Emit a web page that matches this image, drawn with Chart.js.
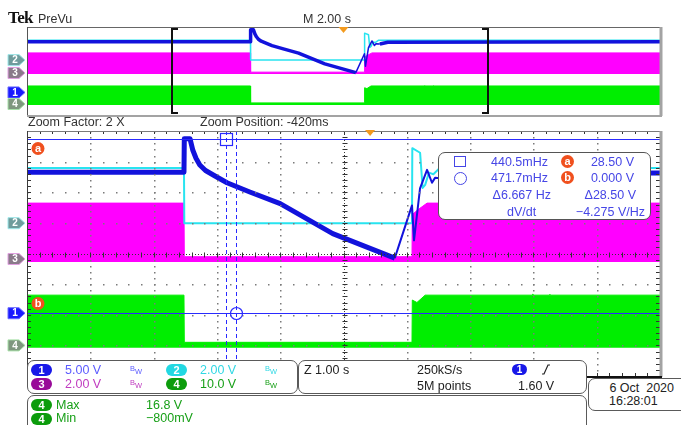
<!DOCTYPE html>
<html>
<head>
<meta charset="utf-8">
<title>Tek PreVu</title>
<script src="https://cdn.jsdelivr.net/npm/chart.js"></script>
<style>
  body { margin: 0; background: #fff; }
  #scope { position: relative; width: 681px; height: 425px; overflow: hidden; font-family: 'Liberation Sans', Arial, sans-serif; color: #222; }
  #scope canvas { position: absolute; left: 0; top: 0; }
  .t { position: absolute; font-size: 12.5px; line-height: 14px; white-space: nowrap; }
  .r { text-align: right; }
  .box { position: absolute; background: #fff; border: 1.5px solid #5a5a5a; border-radius: 7px; box-sizing: border-box; }
  .pill { position: absolute; width: 21px; height: 12px; border-radius: 6px; color: #fff; font-size: 11px; font-weight: bold; line-height: 12px; text-align: center; }
  .bw { position: absolute; font-size: 7.5px; line-height: 8px; }
  .bw span { position: relative; top: 3px; }
  .cur { color: #4646e6; }
  .dot { position: absolute; width: 13px; height: 13px; border-radius: 50%; background: #f0501e; color: #fff; font: bold 11px/13px 'Liberation Sans', Arial, sans-serif; text-align: center; }
</style>
</head>
<body>
<div id="scope">
  <canvas id="preview" width="681" height="425"></canvas>
  <canvas id="zoom" width="681" height="425"></canvas>

  <div class="t" style="left:8px;top:9px;font:bold 17px/17px 'Liberation Serif',serif;letter-spacing:-0.6px;color:#111">Tek</div>
  <div class="t" style="left:38px;top:12px;color:#333">PreVu</div>
  <div class="t" style="left:303px;top:12px;color:#333">M 2.00 s</div>
  <div class="t" style="left:28px;top:115px;color:#333">Zoom Factor: 2 X</div>
  <div class="t" style="left:200px;top:115px;color:#333">Zoom Position: -420ms</div>

  <!-- cursor readout -->
  <div class="box" style="left:438px;top:152px;width:213px;height:68px;border-color:#555"></div>
  <div style="position:absolute;left:454px;top:156px;width:12px;height:11px;border:1.5px solid #4646e6;box-sizing:border-box"></div>
  <div style="position:absolute;left:454px;top:172px;width:13px;height:13px;border:1.5px solid #4646e6;border-radius:50%;box-sizing:border-box"></div>
  <div class="t r cur" style="left:478px;width:70px;top:155px">440.5mHz</div>
  <div class="t r cur" style="left:478px;width:70px;top:171px">471.7mHz</div>
  <div class="t r cur" style="left:478px;width:73px;top:188px">Δ6.667 Hz</div>
  <div class="t cur" style="left:507px;top:205px">dV/dt</div>
  <div class="dot" style="left:561px;top:155px">a</div>
  <div class="dot" style="left:561px;top:171px">b</div>
  <div class="t r cur" style="left:560px;width:74px;top:155px">28.50 V</div>
  <div class="t r cur" style="left:560px;width:74px;top:171px">0.000 V</div>
  <div class="t r cur" style="left:560px;width:76px;top:188px">Δ28.50 V</div>
  <div class="t r cur" style="left:560px;width:85px;top:205px">−4.275 V/Hz</div>

  <!-- measurement panel -->
  <div class="box" style="left:27px;top:395px;width:560px;height:45px"></div>
  <div class="pill" style="left:31px;top:399px;background:#0c9c0c">4</div>
  <div class="t" style="left:56px;top:398px;color:#18a018">Max</div>
  <div class="t" style="left:146px;top:398px;color:#18a018">16.8 V</div>
  <div class="pill" style="left:31px;top:413px;background:#0c9c0c">4</div>
  <div class="t" style="left:56px;top:411px;color:#18a018">Min</div>
  <div class="t" style="left:146px;top:411px;color:#18a018">−800mV</div>

  <!-- vertical settings -->
  <div class="box" style="left:27px;top:360px;width:271px;height:34px"></div>
  <div class="pill" style="left:31px;top:364px;background:#1818e8">1</div>
  <div class="t" style="left:65px;top:363px;color:#5b5bff">5.00 V</div>
  <div class="bw" style="left:130px;top:365px;color:#5b5bff">B<span>W</span></div>
  <div class="pill" style="left:166px;top:364px;background:#22d8e2">2</div>
  <div class="t" style="left:200px;top:363px;color:#30d8e4">2.00 V</div>
  <div class="bw" style="left:265px;top:365px;color:#30d8e4">B<span>W</span></div>
  <div class="pill" style="left:31px;top:378px;background:#990a99">3</div>
  <div class="t" style="left:65px;top:377px;color:#c03cc0">2.00 V</div>
  <div class="bw" style="left:130px;top:379px;color:#c03cc0">B<span>W</span></div>
  <div class="pill" style="left:166px;top:378px;background:#0c9c0c">4</div>
  <div class="t" style="left:200px;top:377px;color:#18a018">10.0 V</div>
  <div class="bw" style="left:265px;top:379px;color:#18a018">B<span>W</span></div>

  <!-- horizontal / trigger -->
  <div class="box" style="left:298px;top:360px;width:289px;height:34px"></div>
  <div class="t" style="left:304px;top:363px">Z 1.00 s</div>
  <div class="t" style="left:417px;top:363px">250kS/s</div>
  <div class="t" style="left:417px;top:379px">5M points</div>
  <div class="pill" style="left:512px;top:364px;width:15px;height:11px;line-height:11px;font-size:10px;background:#1818e8">1</div>
  <svg style="position:absolute;left:541px;top:364px" width="10" height="11"><polyline points="1,10 3,10 7,1 9,1" fill="none" stroke="#222" stroke-width="1.2"/></svg>
  <div class="t" style="left:518px;top:379px">1.60 V</div>

  <!-- date -->
  <div class="box" style="left:588px;top:378px;width:110px;height:33px"></div>
  <div class="t r" style="left:600px;width:74px;top:381px">6 Oct&nbsp; 2020</div>
  <div class="t" style="left:609px;top:394px">16:28:01</div>
</div>

<script>
// vertical setup per channel: volts/div and trace position (div from centre)
const chScale = [5, 2, 2, 10];
const chPos = [-1.95, 0.99, -0.18, -3.0];
const chColor = ['#1212dc', '#28e4f0', '#ff00ff', '#00ee00'];

// time windows (s, trigger at 0)
const previewWindow = [-10, 10];
const zoomWindow = [-5.42, 4.58];

// ch1 (blue) volts
const ch1Time = [-10, -2.94, -2.935, -2.845, -2.80, -2.75, -2.69, -2.60, -2.45, -2.26, -1.90, -1.42, -0.59, 0.39, 0.662, 0.694, 0.789, 0.90, 0.978, 1.026, 1.15, 1.4, 10];
const ch1Volts = [23, 23, 28.5, 28.5, 26.6, 25.3, 24.2, 23.3, 22.4, 21.3, 19.8, 17.9, 13.0, 9.0, 17.6, 11.9, 20.4, 23.4, 21.3, 22.1, 22.0, 22.8, 23];

// ch2 (cyan)
const ch2Time = [-10, -2.94, -2.935, 0.662, 0.667, 0.79, 0.83, 0.87, 0.93, 1.0, 1.1, 10];
const ch2Volts = [3.6, 3.6, 0, 0, 4.9, 4.6, 2.3, 2.5, 3.3, 3.2, 3.6, 3.6];

// ch3 (magenta) switching envelope, upper edge + floor
const ch3Time = [-10, -2.94, -2.935, 0.662, 0.667, 0.75, 0.90, 10];
const ch3High = [3.65, 3.65, 0.15, 0.15, 2.9, 3.2, 3.65, 3.65];
const ch3Floor = -0.2;

// ch4 (green) switching envelope, upper edge + floor
const ch4Time = [-10, -2.94, -2.935, 0.662, 0.667, 0.74, 0.87, 2.56, 2.57, 2.58, 2.83, 2.84, 2.85, 10];
const ch4High = [16.4, 16.4, 1.0, 1.0, 14.8, 14.0, 16.4, 16.4, 16.8, 16.4, 16.4, 16.7, 16.4, 16.4];
const ch4Floor = -0.8;

// cursors: readouts in Hz (1/t), levels on ch1
const cursorFreq = [0.4405, 0.4717];
const cursorVolts = [28.5, 0];

function toDiv(ch, v) { return v / chScale[ch] + chPos[ch]; }
function points(ch, times, volts) {
  return times.map((t, i) => ({ x: t, y: toDiv(ch, volts[i]) }));
}

function traces(wide, thin) {
  return [{
    data: points(0, ch1Time, ch1Volts), borderColor: chColor[0], borderWidth: wide,
    segment: { borderWidth: c => (c.p0.parsed.x >= 0.39 && c.p0.parsed.x < 1.1) ? thin : wide }
  }, {
    data: points(1, ch2Time, ch2Volts), borderColor: chColor[1], borderWidth: thin
  }, {
    data: points(3, ch4Time, ch4High), borderColor: chColor[3], borderWidth: 1,
    backgroundColor: chColor[3], fill: { value: toDiv(3, ch4Floor) }
  }, {
    data: points(2, ch3Time, ch3High), borderColor: chColor[2], borderWidth: 1,
    backgroundColor: chColor[2], fill: { value: toDiv(2, ch3Floor) }
  }];
}

function line(ctx, x1, y1, x2, y2) {
  ctx.beginPath(); ctx.moveTo(x1, y1); ctx.lineTo(x2, y2); ctx.stroke();
}

// frame with darker top/left and heavier right/bottom
function drawFrame(ctx, a, left, top, right, bottom) {
  ctx.lineWidth = 1;
  ctx.strokeStyle = top; line(ctx, a.left, a.top + 0.5, a.right, a.top + 0.5);
  ctx.strokeStyle = left; line(ctx, a.left + 0.5, a.top, a.left + 0.5, a.bottom);
  ctx.lineWidth = 3;
  ctx.strokeStyle = right; line(ctx, a.right + 1, a.top, a.right + 1, a.bottom + 1);
  ctx.lineWidth = 2;
  ctx.strokeStyle = bottom; line(ctx, a.left, a.bottom + 1, a.right + 2, a.bottom + 1);
}

function drawTrigger(ctx, px, top) {
  ctx.fillStyle = '#f39a1e';
  ctx.beginPath();
  ctx.moveTo(px - 5, top); ctx.lineTo(px + 5, top); ctx.lineTo(px, top + 6);
  ctx.closePath(); ctx.fill();
}

// channel position tags in the left margin
const tagFill = ['#1a1aff', '#6f9c9c', '#8a7a8a', '#7f977f'];
const tagEdge = ['#6a6aff', '#9fe8ea', '#e0a0e0', '#a8e0a8'];
function drawTags(ctx, y) {
  [1, 2, 0, 3].forEach(ch => {
    const py = y.getPixelForValue(chPos[ch]);
    ctx.beginPath();
    ctx.moveTo(8, py - 5.5); ctx.lineTo(19, py - 5.5); ctx.lineTo(25, py);
    ctx.lineTo(19, py + 5.5); ctx.lineTo(8, py + 5.5); ctx.closePath();
    ctx.fillStyle = tagFill[ch]; ctx.fill();
    ctx.lineWidth = 1; ctx.strokeStyle = tagEdge[ch]; ctx.stroke();
    ctx.fillStyle = '#fff';
    ctx.font = 'bold 10px "Liberation Sans", Arial, sans-serif';
    ctx.textAlign = 'center'; ctx.textBaseline = 'middle';
    ctx.fillText(String(ch + 1), 15, py + 0.5);
  });
}

function drawGraticule(ctx, a, x, y) {
  const xs = [], ys = [];
  for (let i = 0; i <= 50; i++) xs.push(Math.round(x.getPixelForValue(x.min + i / 5)));
  for (let j = 0; j <= 40; j++) ys.push(Math.round(y.getPixelForValue(y.min + j / 5)));
  ctx.fillStyle = '#7a7a7a';
  for (let i = 5; i < 50; i += 5) {
    if (i === 25) continue;
    ys.forEach(py => ctx.fillRect(xs[i], py, 1.5, 1.5));
  }
  for (let j = 5; j < 40; j += 5) {
    if (j === 20) continue;
    xs.forEach(px => ctx.fillRect(px, ys[j], 1.5, 1.5));
  }
  const cx = xs[25] + 0.5, cy = ys[20] + 0.5;
  ctx.strokeStyle = '#333'; ctx.lineWidth = 1;
  ctx.setLineDash([1, 2]);
  line(ctx, a.left, cy, a.right, cy);
  line(ctx, cx, a.top, cx, a.bottom);
  ctx.setLineDash([]);
  xs.forEach(px => {
    line(ctx, px + 0.5, cy - 2, px + 0.5, cy + 3);
    line(ctx, px + 0.5, a.top, px + 0.5, a.top + 3);
    line(ctx, px + 0.5, a.bottom - 3, px + 0.5, a.bottom);
  });
  ys.forEach(py => {
    line(ctx, cx - 2, py + 0.5, cx + 3, py + 0.5);
    line(ctx, a.left, py + 0.5, a.left + 4, py + 0.5);
    line(ctx, a.right - 4, py + 0.5, a.right, py + 0.5);
  });
}

function drawCursors(ctx, a, x, y) {
  const tx = cursorFreq.map(f => Math.round(x.getPixelForValue(-1 / f)) + 0.5);
  const vy = cursorVolts.map(v => Math.round(y.getPixelForValue(toDiv(0, v))) + 0.5);
  ctx.strokeStyle = '#2a2aff'; ctx.lineWidth = 1;
  vy.forEach(py => line(ctx, a.left, py, a.right, py));
  ctx.setLineDash([4, 3]);
  tx.forEach(px => line(ctx, px, a.top, px, a.bottom));
  ctx.setLineDash([]);
  ctx.lineWidth = 1.2;
  ctx.strokeRect(tx[0] - 6, vy[0] - 6, 12, 12);
  ctx.beginPath(); ctx.arc(tx[1], vy[1], 6, 0, Math.PI * 2); ctx.stroke();

  // a / b cursor badges
  [['a', vy[0] + 9], ['b', vy[1] - 10]].forEach(([s, py]) => {
    ctx.fillStyle = '#f0501e';
    ctx.beginPath(); ctx.arc(38, py, 6.5, 0, Math.PI * 2); ctx.fill();
    ctx.fillStyle = '#fff';
    ctx.font = 'bold 11px "Liberation Sans", Arial, sans-serif';
    ctx.textAlign = 'center'; ctx.textBaseline = 'middle';
    ctx.fillText(s, 38, py + 0.5);
  });
}

const zoomDecor = {
  id: 'zoomDecor',
  afterDatasetsDraw(chart) {
    const { ctx, chartArea: a, scales: { x, y } } = chart;
    ctx.save();
    drawGraticule(ctx, a, x, y);
    drawCursors(ctx, a, x, y);
    drawFrame(ctx, a, '#3c3c3c', '#7a7a7a', '#a3a3a3', '#111');
    drawTrigger(ctx, x.getPixelForValue(0), a.top - 1);
    drawTags(ctx, y);
    ctx.restore();
  }
};

const previewDecor = {
  id: 'previewDecor',
  afterDatasetsDraw(chart) {
    const { ctx, chartArea: a, scales: { x, y } } = chart;
    ctx.save();
    drawFrame(ctx, a, '#555', '#666', '#a3a3a3', '#a3a3a3');
    // zoom window brackets
    ctx.strokeStyle = '#111'; ctx.lineWidth = 2;
    const l = Math.round(x.getPixelForValue(zoomWindow[0]));
    const r = Math.round(x.getPixelForValue(zoomWindow[1]));
    ctx.beginPath();
    ctx.moveTo(l + 6, a.top + 2); ctx.lineTo(l, a.top + 2); ctx.lineTo(l, a.bottom - 2); ctx.lineTo(l + 6, a.bottom - 2);
    ctx.moveTo(r - 6, a.top + 2); ctx.lineTo(r, a.top + 2); ctx.lineTo(r, a.bottom - 2); ctx.lineTo(r - 6, a.bottom - 2);
    ctx.stroke();
    drawTrigger(ctx, x.getPixelForValue(0), a.top);
    drawTags(ctx, y);
    ctx.restore();
  }
};

function scopeChart(id, range, padding, wide, thin, decor) {
  return new Chart(document.getElementById(id), {
    type: 'line',
    data: { datasets: traces(wide, thin) },
    options: {
      responsive: false,
      animation: false,
      events: [],
      layout: { padding: padding },
      elements: { point: { radius: 0 }, line: { tension: 0, borderJoinStyle: 'round' } },
      scales: {
        x: { type: 'linear', min: range[0], max: range[1], display: false },
        y: { min: -4, max: 4, display: false }
      },
      plugins: { legend: { display: false }, tooltip: { enabled: false } }
    },
    plugins: [decor]
  });
}

scopeChart('preview', previewWindow, { left: 27, top: 27, right: 21, bottom: 310 }, 3.5, 1.5, previewDecor);
scopeChart('zoom', zoomWindow, { left: 27, top: 131, right: 21, bottom: 49 }, 5, 2, zoomDecor);
</script>
</body>
</html>
